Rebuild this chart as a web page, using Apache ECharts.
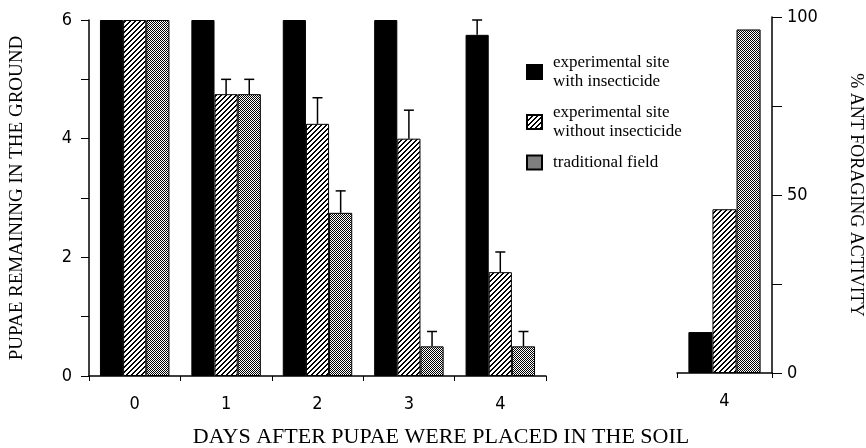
<!DOCTYPE html>
<html>
<head>
<meta charset="utf-8">
<script src="https://cdn.jsdelivr.net/npm/echarts@6/dist/echarts.min.js"></script>
<style>
  html, body { margin: 0; padding: 0; background: #fff; }
  #chart { width: 866px; height: 448px; }
</style>
</head>
<body>
<div id="chart"></div>
<script>
// 数据
const days = ["0", "1", "2", "3", "4"];
const withIns = [6, 6, 6, 6, 5.75];
const withInsErr = [0, 0, 0, 0, 0.25];
const withoutIns = [6, 4.75, 4.25, 4, 1.75];
const withoutInsErr = [0, 0.25, 0.44, 0.48, 0.34];
const traditional = [6, 4.75, 2.75, 0.5, 0.5];
const traditionalErr = [0, 0.25, 0.37, 0.25, 0.25];

const forageDay = ["4"];
const forageWithIns = [11.5];
const forageWithoutIns = [46];
const forageTraditional = [96.5];

const names = [
    "experimental site\nwith insecticide",
    "experimental site\nwithout insecticide",
    "traditional field",
];

const NARROW = '"Liberation Sans Narrow", "DejaVu Sans Condensed", sans-serif';
const SERIF = '"Liberation Serif", "DejaVu Serif", serif';
const GAP = 0.24;

// 填充图案
function makePattern(n, test) {
    const c = document.createElement("canvas");
    c.width = n; c.height = n;
    const ctx = c.getContext("2d");
    const img = ctx.createImageData(n, n);
    for (let y = 0; y < n; y++) {
        for (let x = 0; x < n; x++) {
            const v = test(x, y) ? 0 : 255;
            const i = (y * n + x) * 4;
            img.data[i] = v; img.data[i + 1] = v; img.data[i + 2] = v; img.data[i + 3] = 255;
        }
    }
    ctx.putImageData(img, 0, 0);
    return { image: c, repeat: "repeat" };
}
const hatch = makePattern(5, (x, y) => (x + y) % 5 < 2);
const stipple = makePattern(2, (x, y) => (x + y) % 2 === 0);
const fills = ["#000", hatch, stipple];

function barSeries(name, data, fill, idx) {
    return {
        name: name, type: "bar", data: data,
        xAxisIndex: idx, yAxisIndex: idx,
        barGap: "0%", barCategoryGap: (GAP * 100) + "%",
        itemStyle: { color: fill, borderColor: "#000", borderWidth: 1 },
        silent: true,
    };
}

function errSeries(vals, errs, offset) {
    return {
        type: "custom", xAxisIndex: 0, yAxisIndex: 0, silent: true, z: 5,
        data: vals.map((v, i) => [i, v, errs[i]]),
        renderItem: (params, api) => {
            const err = api.value(2);
            if (!err) return null;
            const base = api.coord([api.value(0), api.value(1)]);
            const top = api.coord([api.value(0), api.value(1) + err]);
            const bw = api.size([1, 0])[0] * (1 - GAP) / 3;
            const x = base[0] + offset * bw;
            const st = { stroke: "#000", lineWidth: 1.5 };
            return {
                type: "group",
                children: [
                    { type: "line", shape: { x1: x, y1: base[1], x2: x, y2: top[1] }, style: st },
                    { type: "line", shape: { x1: x - 5, y1: top[1], x2: x + 5, y2: top[1] }, style: st },
                ],
            };
        },
    };
}

const chart = echarts.init(document.getElementById("chart"));
chart.setOption({
    animation: false,
    backgroundColor: "#fff",
    grid: [
        { left: 86, right: 320, top: 20, bottom: 72 },
        { left: 677, right: 88, top: 17, bottom: 75 },
    ],
    legend: {
        data: names,
        orient: "vertical",
        left: 521, top: 48,
        itemWidth: 15, itemHeight: 14, itemGap: 12,
        icon: "rect",
        selectedMode: false,
        textStyle: { fontFamily: SERIF, fontSize: 17, color: "#000", lineHeight: 19, padding: [0, 0, 0, 6] },
    },
    xAxis: [
        {
            type: "category", gridIndex: 0, data: days,
            axisLine: { lineStyle: { color: "#000", width: 1.5 } },
            axisTick: { show: true, inside: false, length: 5, lineStyle: { color: "#000" } },
            axisLabel: { color: "#000", fontFamily: NARROW, fontSize: 18, margin: 19 },
        },
        {
            type: "category", gridIndex: 1, data: forageDay,
            axisLine: { lineStyle: { color: "#000", width: 1.5 } },
            axisTick: { show: true, length: 5, lineStyle: { color: "#000" } },
            axisLabel: { color: "#000", fontFamily: NARROW, fontSize: 18, margin: 19 },
        },
    ],
    yAxis: [
        {
            type: "value", gridIndex: 0, min: 0, max: 6, interval: 1,
            name: "PUPAE REMAINING IN THE GROUND",
            nameLocation: "middle", nameGap: 62, nameRotate: 90,
            nameTextStyle: { fontFamily: SERIF, fontSize: 19, color: "#000" },
            axisLine: { show: true, lineStyle: { color: "#000", width: 1.5 } },
            axisTick: { show: true, length: 8, lineStyle: { color: "#000" } },
            axisLabel: {
                color: "#000", fontFamily: NARROW, fontSize: 18, margin: 17,
                formatter: (v) => (v % 2 === 0 ? String(v) : ""),
            },
            splitLine: { show: false },
        },
        {
            type: "value", gridIndex: 1, position: "right", min: 0, max: 100, interval: 25,
            name: "% ANT FORAGING ACTIVITY",
            nameLocation: "middle", nameGap: 75, nameRotate: -90,
            nameTextStyle: { fontFamily: SERIF, fontSize: 18, color: "#000" },
            axisLine: { show: true, lineStyle: { color: "#000", width: 1.5 } },
            axisTick: { show: true, length: 10, lineStyle: { color: "#000" } },
            axisLabel: {
                color: "#000", fontFamily: NARROW, fontSize: 18, margin: 15,
                formatter: (v) => (v % 50 === 0 ? String(v) : ""),
            },
            splitLine: { show: false },
        },
    ],
    graphic: [{
        type: "text", x: 441, y: 437,
        style: {
            text: "DAYS AFTER PUPAE WERE PLACED IN THE SOIL",
            fontFamily: SERIF, fontSize: 22, fill: "#000",
            align: "center", verticalAlign: "middle",
        },
    }],
    series: [
        barSeries(names[0], withIns, fills[0], 0),
        barSeries(names[1], withoutIns, fills[1], 0),
        barSeries(names[2], traditional, fills[2], 0),
        barSeries(names[0], forageWithIns, fills[0], 1),
        barSeries(names[1], forageWithoutIns, fills[1], 1),
        barSeries(names[2], forageTraditional, fills[2], 1),
        errSeries(withIns, withInsErr, -1),
        errSeries(withoutIns, withoutInsErr, 0),
        errSeries(traditional, traditionalErr, 1),
    ],
});
</script>
</body>
</html>
